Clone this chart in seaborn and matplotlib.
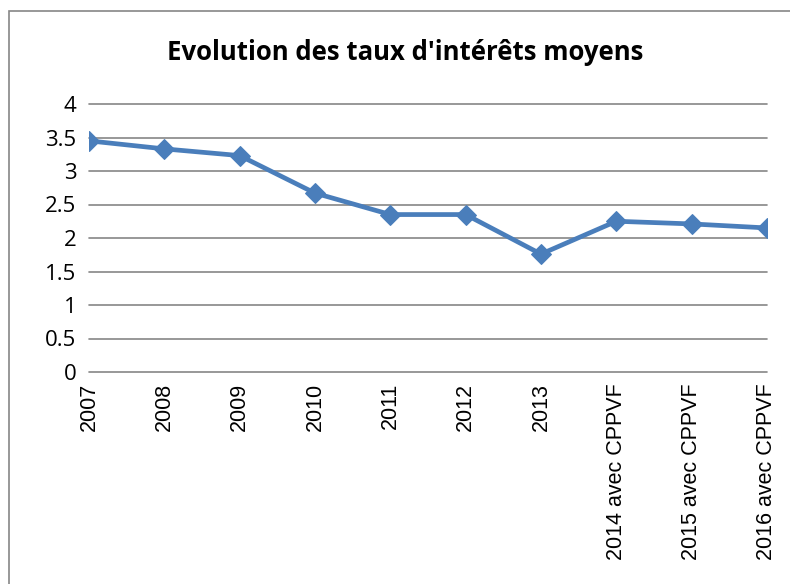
import matplotlib
matplotlib.use("Agg")
import matplotlib.pyplot as plt
import seaborn as sns
import pandas as pd
from matplotlib.patches import Rectangle

categories = ["2007", "2008", "2009", "2010", "2011", "2012", "2013",
              "2014 avec CPPVF", "2015 avec CPPVF", "2016 avec CPPVF"]
taux = [3.45, 3.33, 3.23, 2.67, 2.35, 2.35, 1.76, 2.25, 2.21, 2.15]
yticks = [0, 0.5, 1, 1.5, 2, 2.5, 3, 3.5, 4]
ytick_labels = ["0", "0.5", "1", "1.5", "2", "2.5", "3", "3.5", "4"]
title = "Evolution des taux d'intérêts moyens"

df = pd.DataFrame({"annee": categories, "taux": taux})

sns.set_theme(style="white")
plt.rcParams["font.family"] = ["Open Sans", "DejaVu Sans"]
plt.rcParams["text.color"] = "black"
plt.rcParams["xtick.color"] = "black"
plt.rcParams["ytick.color"] = "black"

fig = plt.figure(figsize=(7.9, 5.84), dpi=100)
ax = fig.add_axes([89/790, 1-372/584, (767-89)/790, (372-104)/584])

sns.lineplot(data=df, x="annee", y="taux", sort=False, ax=ax,
             color="#4A7EBB", linewidth=3.4, marker="D", markersize=10.5,
             markeredgecolor="#4A7EBB")

ax.set_ylim(0, 4)
ax.set_xlim(0, len(categories) - 1)
ax.set_yticks(yticks)
ax.set_yticklabels(ytick_labels, fontsize=16, family=["Open Sans", "DejaVu Sans"],
                   color="black")
ax.set_xticks(range(len(categories)))
ax.set_xticklabels(categories, rotation=90, fontsize=15.5,
                   family=["Liberation Sans", "DejaVu Sans"], va="top",
                   color="black")
for y in yticks:
    ax.axhline(y, color="#868686", linewidth=1.2, zorder=0, clip_on=False)
for s in ax.spines.values():
    s.set_visible(False)
ax.tick_params(axis="x", length=0, pad=8)
ax.tick_params(axis="y", length=0, pad=9)
ax.set_xlabel("")
ax.set_ylabel("")
ax.grid(False)

fig.text(405/790, 1-53/584, title, ha="center", va="center", fontsize=18.5,
         fontweight="bold", color="black", family=["Open Sans", "DejaVu Sans"])

fig.patches.append(Rectangle((9/790, -0.1), 1.2, 1-11/584+0.1,
                             transform=fig.transFigure, fill=False,
                             edgecolor="#868686", linewidth=1.2))

fig.savefig("out.png", dpi=100)
